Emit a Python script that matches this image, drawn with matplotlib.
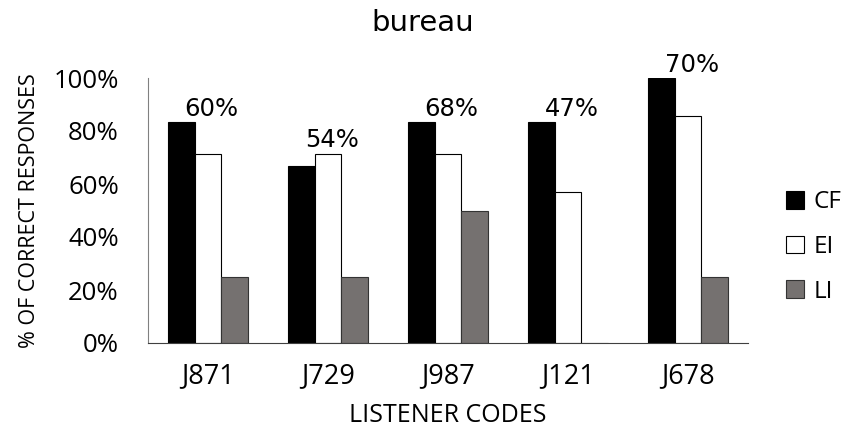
import numpy as np
import matplotlib.pyplot as plt

listeners = ["J871", "J729", "J987", "J121", "J678"]
cf = [83.3, 66.7, 83.3, 83.3, 100.0]
ei = [71.4, 71.4, 71.4, 57.1, 85.7]
li = [25.0, 25.0, 50.0, 0.0, 25.0]
overall = ["60%", "54%", "68%", "47%", "70%"]

tick_font = "Open Sans"

fig = plt.figure(figsize=(8.45, 4.29), dpi=100)
ax = fig.add_axes([148 / 845, 1 - 343 / 429, 600 / 845, 265 / 429])

x = np.arange(len(listeners))
w = 0.22
ax.bar(x - w, cf, w, color="black", edgecolor="black", linewidth=0.8, label="CF")
ax.bar(x, ei, w, color="white", edgecolor="black", linewidth=0.8, label="EI")
ax.bar(x + w, li, w, color="#757170", edgecolor="#333333", linewidth=0.8, label="LI")

# overall score for each listener, above the tallest bar of the group
for i, txt in enumerate(overall):
    top = max(cf[i], ei[i], li[i])
    ax.annotate(txt, (x[i] + 0.03, top), xytext=(0, 1), textcoords="offset points",
                ha="center", va="bottom", fontsize=17.5, family="DejaVu Sans",
                annotation_clip=False)

ax.set_xlim(-0.5, len(listeners) - 0.5)
ax.set_ylim(0, 100)
ax.set_yticks(np.arange(0, 101, 20))
ax.set_yticklabels([f"{v}%" for v in range(0, 101, 20)], family=tick_font, fontsize=18.5)
ax.set_xticks(x)
ax.set_xticklabels(listeners, family=tick_font, fontsize=19.5)
ax.tick_params(axis="y", length=0, pad=21)
ax.tick_params(axis="x", length=0, pad=14)

for s in ["top", "right"]:
    ax.spines[s].set_visible(False)
ax.spines["left"].set_color("#808080")
ax.spines["bottom"].set_color("#404040")

ax.set_ylabel("% OF CORRECT RESPONSES", family=tick_font, fontsize=15.5, labelpad=10)
ax.set_xlabel("LISTENER CODES", family=tick_font, fontsize=18, labelpad=9)
fig.suptitle("bureau", x=0.5, y=0.978, fontsize=21, family="DejaVu Sans")

ax.legend(loc="center left", bbox_to_anchor=(786 / 845, 1 - 247 / 429), bbox_transform=fig.transFigure,
          frameon=False, handlelength=0.75, handleheight=0.75, handletextpad=0.4,
          labelspacing=0.85, borderpad=0, borderaxespad=0,
          prop={"family": tick_font, "size": 17.5})

fig.savefig("out.png", dpi=100)
